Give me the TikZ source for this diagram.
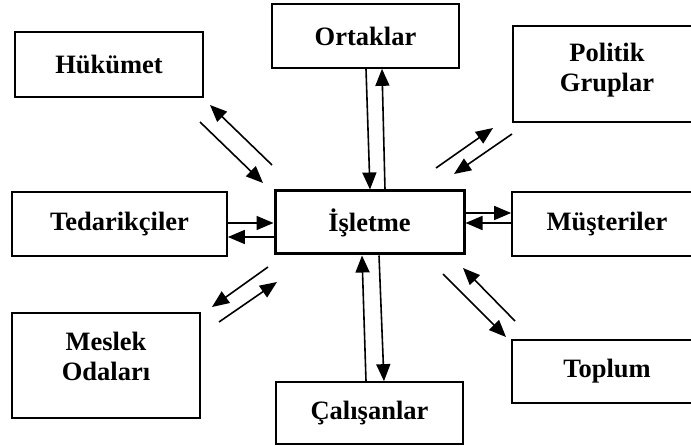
\documentclass[tikz,border=0pt]{standalone}
\usepackage{fontspec}
\setmainfont{Liberation Serif}
\usetikzlibrary{arrows.meta}
\begin{document}
\begin{tikzpicture}[x=1pt,y=-1pt,
  box/.style={draw, line width=1.7pt, rectangle, inner sep=0pt, font=\fontsize{26.5}{30}\selectfont\bfseries, align=center},
  lbl/.style={inner sep=0pt, font=\fontsize{26.5}{30}\selectfont\bfseries, align=center},
  arr/.style={line width=1.6pt, -{Triangle[length=17pt,width=14pt]}}]
\useasboundingbox (0,0) rectangle (691,446);
% boxes
\node[box, minimum width=188pt, minimum height=65pt] (huk) at (109,64.5) {Hükümet};
\node[box, minimum width=187pt, minimum height=64pt] (ort) at (365.5,36) {Ortaklar};
\node[box, minimum width=188pt, minimum height=96pt] (pol) at (607,74) {};
\node[lbl] (polt) at ([yshift=3.5pt]pol.center) {Politik\\Gruplar};
\node[box, minimum width=215pt, minimum height=64pt] (ted) at (119.5,224) {Tedarikçiler};
\node[box, line width=3pt, minimum width=189pt, minimum height=63pt] (isl) at (369.5,222.5) {İşletme};
\node[box, minimum width=190pt, minimum height=64pt] (mus) at (607,224) {Müşteriler};
\node[box, minimum width=188pt, minimum height=105pt] (mes) at (106,365.5) {};
\node[lbl] (mest) at ([yshift=9pt]mes.center) {Meslek\\Odaları};
\node[box, minimum width=190pt, minimum height=63pt] (top) at (607,371.5) {Toplum};
\node[box, minimum width=187pt, minimum height=62pt] (cal) at (369.5,413) {Çalışanlar};
% Ortaklar
\draw[arr] ([xshift=0.5pt]ort.south) -- ([xshift=0.5pt]isl.north);
\draw[arr] ([xshift=15.5pt]isl.north) -- ([xshift=16.5pt]ort.south);
% Calisanlar
\draw[arr] ([xshift=-3.5pt]cal.north) -- ([xshift=-7.5pt]isl.south);
\draw[arr] ([xshift=9.5pt]isl.south) -- ([xshift=14.5pt]cal.north);
% Tedarikciler
\draw[arr] ([yshift=1pt]ted.east) -- ([yshift=-0.5pt]isl.west);
\draw[arr] ([yshift=-14.5pt]isl.west) -- ([yshift=-13pt]ted.east);
% Musteriler
\draw[arr] ([yshift=9.5pt]isl.east) -- ([yshift=11pt]mus.west);
\draw[arr] ([yshift=1pt]mus.west) -- ([yshift=-0.5pt]isl.east);
% Hukumet
\coordinate (h1a) at (200,122); \coordinate (h1b) at (263,183);
\coordinate (h2a) at (272,165); \coordinate (h2b) at (210,105);
\draw[arr] (h1a) -- (h1b);
\draw[arr] (h2a) -- (h2b);
% Politik
\coordinate (p1a) at (436,168); \coordinate (p1b) at (493,128);
\coordinate (p2a) at (512,134); \coordinate (p2b) at (454,174);
\draw[arr] (p1a) -- (p1b);
\draw[arr] (p2a) -- (p2b);
% Meslek
\coordinate (m1a) at (268,267); \coordinate (m1b) at (212,307);
\coordinate (m2a) at (219,322); \coordinate (m2b) at (277,282);
\draw[arr] (m1a) -- (m1b);
\draw[arr] (m2a) -- (m2b);
% Toplum
\coordinate (t1a) at (443,274); \coordinate (t1b) at (506,337);
\coordinate (t2a) at (515,321); \coordinate (t2b) at (463,268);
\draw[arr] (t1a) -- (t1b);
\draw[arr] (t2a) -- (t2b);
\end{tikzpicture}
\end{document}
